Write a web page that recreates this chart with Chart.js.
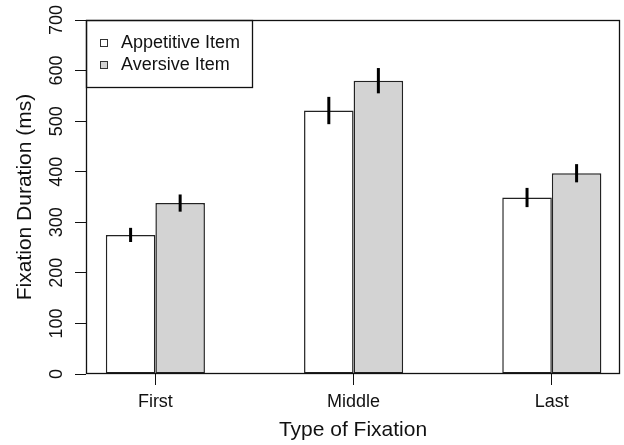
<!DOCTYPE html>
<html>
<head>
<meta charset="utf-8">
<script src="https://cdn.jsdelivr.net/npm/chart.js@4"></script>
<style>
  body { margin: 0; background: #fff; }
  #wrap { width: 624px; height: 445px; }
</style>
</head>
<body>
<div id="wrap"><canvas id="myChart" width="624" height="445"></canvas></div>
<script>
// data
var categories = ['First', 'Middle', 'Last'];
var appetitive = [275, 521, 349];
var aversive = [338, 580, 397];
var appetitiveErr = [14, 27, 19];
var aversiveErr = [17, 25, 18];
var yTicks = [0, 100, 200, 300, 400, 500, 600, 700];

var FONT = '"Liberation Sans", Arial, Helvetica, sans-serif';

function points(vals) {
    return vals.map(function (v, i) { return { x: i, y: v }; });
}

// box around the plot region
var frame = {
    id: 'frame',
    afterDatasetsDraw: function (chart) {
        var a = chart.chartArea, c = chart.ctx;
        c.save();
        c.strokeStyle = '#111';
        c.lineWidth = 1.3;
        c.strokeRect(a.left + 0.5, a.top + 0.5, a.right - a.left - 1, a.bottom - a.top - 1);
        c.restore();
    }
};

// vertical error bars, no caps
var errorBars = {
    id: 'errorBars',
    afterDatasetsDraw: function (chart) {
        var c = chart.ctx, y = chart.scales.y;
        var errs = [appetitiveErr, aversiveErr];
        c.save();
        c.strokeStyle = '#000';
        c.lineWidth = 3;
        chart.data.datasets.forEach(function (ds, di) {
            chart.getDatasetMeta(di).data.forEach(function (bar, i) {
                var v = ds.data[i].y, e = errs[di][i];
                c.beginPath();
                c.moveTo(bar.x, y.getPixelForValue(v - e));
                c.lineTo(bar.x, y.getPixelForValue(v + e));
                c.stroke();
            });
        });
        c.restore();
    }
};

// legend box in the top-left corner of the plot
var boxLegend = {
    id: 'boxLegend',
    afterDraw: function (chart) {
        var a = chart.chartArea, c = chart.ctx;
        c.save();
        c.strokeStyle = '#111';
        c.lineWidth = 1.3;
        c.strokeRect(a.left + 0.5, a.top + 0.5, 166, 67);
        c.font = '18px ' + FONT;
        c.textBaseline = 'middle';
        chart.data.datasets.forEach(function (ds, i) {
            var cy = a.top + 23 + i * 22;
            c.fillStyle = ds.backgroundColor;
            c.fillRect(a.left + 14, cy - 4, 8, 8);
            c.strokeStyle = '#333';
            c.lineWidth = 1;
            c.strokeRect(a.left + 14.5, cy - 3.5, 7, 7);
            c.fillStyle = '#111';
            c.fillText(ds.label, a.left + 35, cy);
        });
        c.restore();
    }
};

var ctx = document.getElementById('myChart').getContext('2d');
var chart = new Chart(ctx, {
    type: 'bar',
    data: {
        datasets: [{
            label: 'Appetitive Item',
            data: points(appetitive),
            backgroundColor: '#ffffff',
            borderColor: '#222',
            borderWidth: 1.5,
            borderSkipped: false
        }, {
            label: 'Aversive Item',
            data: points(aversive),
            backgroundColor: '#d3d3d3',
            borderColor: '#222',
            borderWidth: 1.5,
            borderSkipped: false
        }]
    },
    options: {
        responsive: false,
        animation: false,
        categoryPercentage: 0.5,
        barPercentage: 1.0,
        layout: { padding: { top: 20, right: 4, left: 0, bottom: 0 } },
        plugins: { legend: { display: false }, tooltip: { enabled: false } },
        scales: {
            x: {
                type: 'linear',
                min: -0.35,
                max: 2.344,
                offset: false,
                afterFit: function (s) { s.height = 71; },
                afterBuildTicks: function (s) {
                    s.ticks = categories.map(function (c, i) { return { value: i }; });
                },
                grid: { offset: false, drawOnChartArea: false, color: '#111', tickLength: 11 },
                border: { display: false },
                ticks: {
                    color: '#111',
                    padding: 6,
                    maxRotation: 0,
                    font: { family: FONT, size: 18 },
                    callback: function (v) { return categories[v]; }
                },
                title: {
                    display: true,
                    text: 'Type of Fixation',
                    color: '#111',
                    font: { family: FONT, size: 21 },
                    padding: { top: 0, bottom: 2 }
                }
            },
            y: {
                min: 0,
                max: 700,
                afterFit: function (s) { s.width = 86; },
                afterBuildTicks: function (s) {
                    s.ticks = yTicks.map(function (v) { return { value: v }; });
                },
                grid: { drawOnChartArea: false, color: '#111', tickLength: 11 },
                border: { display: false },
                ticks: {
                    color: '#111',
                    padding: 3,
                    minRotation: 90,
                    maxRotation: 90,
                    crossAlign: 'center',
                    font: { family: FONT, size: 18 }
                },
                title: {
                    display: true,
                    text: 'Fixation Duration (ms)',
                    color: '#111',
                    font: { family: FONT, size: 21 },
                    padding: { top: 13, bottom: 0 }
                }
            }
        }
    },
    plugins: [frame, errorBars, boxLegend]
});
</script>
</body>
</html>
